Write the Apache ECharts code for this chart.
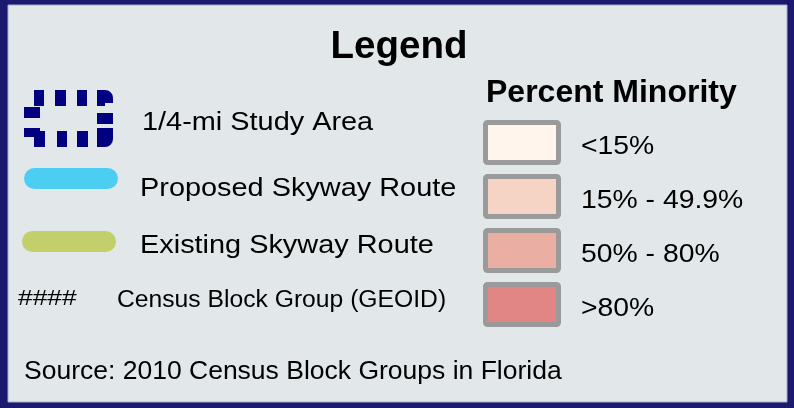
<!DOCTYPE html>
<html>
<head>
<meta charset="utf-8">
<script src="https://cdn.jsdelivr.net/npm/echarts@6/dist/echarts.min.js"></script>
<style>html,body{margin:0;padding:0;background:#1b1a6f;}#c{width:794px;height:408px;}</style>
</head>
<body>
<div id="c"></div>
<script>
// ---- content ----
const legendTitle = 'Legend';
const keyLabels = ['1/4-mi Study Area', 'Proposed Skyway Route', 'Existing Skyway Route'];
const routeColors = ['#4ccdf2', '#c2cf6b'];
const geoidSymbol = '####';
const geoidLabel = 'Census Block Group (GEOID)';
const minorityTitle = 'Percent Minority';
const minorityLabels = ['<15%', '15% - 49.9%', '50% - 80%', '>80%'];
const minorityColors = ['#fff5ec', '#f6d4c5', '#ebaea3', '#e28585'];
const sourceText = 'Source: 2010 Census Block Groups in Florida';

const FONT = '"Liberation Sans", Arial, sans-serif';
const chart = echarts.init(document.getElementById('c'), null, {renderer: 'canvas'});

function txt(text, x, baseline, size, opts) {
  opts = opts || {};
  return {
    type: 'text', x: x, y: baseline - size * 0.23,
    scaleX: opts.sx || 1,
    style: {
      text: text, x: 0, y: 0,
      fill: '#000',
      font: (opts.bold ? 'bold ' : '') + size + 'px ' + FONT,
      textAlign: opts.align || 'left',
      textVerticalAlign: 'middle'
    }
  };
}

const g = [];
// frame
g.push({type: 'rect', shape: {x: 0, y: 0, width: 794, height: 408}, style: {fill: '#1b1a6f'}});
g.push({type: 'rect', shape: {x: 8, y: 5, width: 779, height: 397}, style: {fill: '#e2e7ea', stroke: '#a9abcb', lineWidth: 1}});

// title
g.push(txt(legendTitle, 399, 56, 38.5, {bold: true, align: 'center'}));

// study area icon (dashed box outline)
g.push({type: 'polygon',
  shape: {points: [[32, 98], [105, 98], [105, 139], [32, 139]]},
  style: {fill: null, stroke: '#000080', lineWidth: 16, lineCap: 'butt', lineJoin: 'round',
    lineDash: [0, 2, 10, 11, 11, 11, 10, 10, 13, 10, 11, 4, 19, 9, 11, 10, 10, 12, 11, 4, 9, 10, 11, 20]}});

// route capsules
const routeTop = [168, 231];
const routeLeft = [24, 22];
routeColors.forEach(function (c, i) {
  g.push({type: 'rect', shape: {x: routeLeft[i], y: routeTop[i], width: 94, height: 21, r: 10.5}, style: {fill: c}});
});

// key labels
const keyBaselines = [129, 195, 252];
keyLabels.forEach(function (t, i) {
  g.push(txt(t, i === 0 ? 142 : 140, keyBaselines[i], 26.5, {sx: 1.09}));
});

// GEOID row
g.push(txt(geoidSymbol, 18, 304, 22, {sx: 1.2}));
g.push(txt(geoidLabel, 117, 306, 23.5, {sx: 1.05}));

// percent minority
g.push(txt(minorityTitle, 486, 101, 32, {bold: true}));
minorityColors.forEach(function (c, i) {
  const top = 122.5 + i * 54;
  g.push({type: 'rect', shape: {x: 485.5, y: top, width: 73, height: 40, r: 2},
    style: {fill: c, stroke: '#9a9a9a', lineWidth: 5}});
  g.push(txt(minorityLabels[i], 581, 153 + i * 54, 26, {sx: 1.09}));
});

// source
g.push(txt(sourceText, 24, 378, 26.5));

chart.setOption({
  backgroundColor: '#1b1a6f',
  animation: false,
  graphic: {elements: g}
});
</script>
</body>
</html>
